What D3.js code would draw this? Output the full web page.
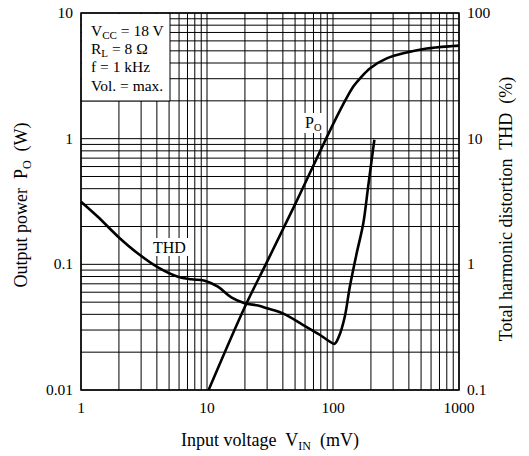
<!DOCTYPE html>
<html><head><meta charset="utf-8">
<script src="https://cdn.jsdelivr.net/npm/d3@7"></script>
<style>body{margin:0;background:#fff}text{font-family:"Liberation Serif","Times New Roman",serif;fill:#000;white-space:pre}</style>
</head><body>
<svg id="c" width="529" height="456"></svg>
<script>
// Data
const poV   = [10.3, 20, 30, 50, 100, 128, 145, 164, 196, 267, 384, 554, 900, 1000];
const poW   = [0.01, 0.046, 0.105, 0.3, 1.3, 2.1, 2.6, 3.02, 3.62, 4.35, 4.85, 5.22, 5.46, 5.5];
const thdV  = [1, 1.36, 1.97, 2.83, 4.08, 5.89, 7.5, 9.6, 12.2, 15.6, 19.9, 25.4, 30, 40, 58, 79, 95, 103, 112, 124, 136, 154, 174, 190, 206, 213];
const thdP  = [3.15, 2.39, 1.66, 1.22, 0.946, 0.797, 0.76, 0.741, 0.664, 0.545, 0.49, 0.47, 0.447, 0.407, 0.329, 0.274, 0.242, 0.233, 0.27, 0.383, 0.664, 1.22, 2.12, 4.14, 7.64, 9.8];
const xTicks = [1, 10, 100, 1000];
const yLeftTicks = [0.01, 0.1, 1, 10];
const yRightTicks = [0.1, 1, 10, 100];
const condLines = [["V","CC"," = 18 V"],["R","L"," = 8 Ω"],["f","",  " = 1 kHz"],["Vol.",""," = max."]];

const svg = d3.select("#c");
const L=81, R=459, T=13, B=390;
const x = d3.scaleLog().domain([1,1000]).range([L,R]);
const yL = d3.scaleLog().domain([0.01,10]).range([B,T]);
const yR = d3.scaleLog().domain([0.1,100]).range([B,T]);

// grid
const g = svg.append("g");
const minor = [];
for (let d=1; d<1000; d*=10) for (let k=1;k<10;k++) minor.push(d*k);
minor.push(1000);
g.selectAll(".vx").data(minor).enter().append("line")
  .attr("x1",d=>x(d)).attr("x2",d=>x(d)).attr("y1",T).attr("y2",B)
  .attr("stroke","#000").attr("stroke-width",1);
const minorY = [];
for (let d=0.01; d<9; d*=10) for (let k=1;k<10;k++) minorY.push(d*k);
minorY.push(10);
g.selectAll(".hy").data(minorY).enter().append("line")
  .attr("y1",d=>yL(d)).attr("y2",d=>yL(d)).attr("x1",L).attr("x2",R)
  .attr("stroke","#000").attr("stroke-width",1);
svg.append("rect").attr("x",L).attr("y",T).attr("width",R-L).attr("height",B-T)
  .attr("fill","none").attr("stroke","#000").attr("stroke-width",1.5);

// condition box
svg.append("rect").attr("x",L+1).attr("y",T+1).attr("width",88).attr("height",87).attr("fill","#fff");
svg.append("line").attr("x1",L).attr("x2",L+89).attr("y1",T+88).attr("y2",T+88).attr("stroke","#000");
svg.append("line").attr("x1",L+89).attr("x2",L+89).attr("y1",T).attr("y2",T+88).attr("stroke","#000");
condLines.forEach((c,i)=>{
  const t = svg.append("text").attr("x",L+10).attr("y",T+23+i*18.2).attr("font-size",15.5);
  t.append("tspan").text(c[0]);
  if (c[1]) t.append("tspan").attr("font-size",11).attr("dy",3).text(c[1]);
  t.append("tspan").attr("dy",c[1]?-3:0).text(c[2]);
});

// curves
const line = d3.line().curve(d3.curveCatmullRom.alpha(0.5));
svg.append("path").attr("d", line(poV.map((v,i)=>[x(v), yL(poW[i])])))
  .attr("fill","none").attr("stroke","#000").attr("stroke-width",2.6);
svg.append("path").attr("d", line(thdV.map((v,i)=>[x(v), yR(thdP[i])])))
  .attr("fill","none").attr("stroke","#000").attr("stroke-width",2.6);

// curve labels
svg.append("rect").attr("x",304).attr("y",113).attr("width",20).attr("height",20).attr("fill","#fff");
const pl = svg.append("text").attr("x",305).attr("y",128).attr("font-size",16);
pl.append("tspan").text("P"); pl.append("tspan").attr("font-size",10.5).attr("dy",3).text("O");
svg.append("rect").attr("x",151).attr("y",238).attr("width",37).attr("height",18).attr("fill","#fff");
svg.append("text").attr("x",153).attr("y",253).attr("font-size",16).text("THD");

// tick labels
svg.selectAll(".xt").data(xTicks).enter().append("text")
  .attr("x",d=>x(d)).attr("y",413).attr("text-anchor","middle").attr("font-size",15.5).text(d=>d);
svg.selectAll(".yl").data(yLeftTicks).enter().append("text")
  .attr("x",73).attr("y",d=>yL(d)+5).attr("text-anchor","end").attr("font-size",15.5).text(d=>d);
svg.selectAll(".yr").data(yRightTicks).enter().append("text")
  .attr("x",467).attr("y",d=>yR(d)+5).attr("text-anchor","start").attr("font-size",15.5).text(d=>d);

// axis titles
const xt = svg.append("text").attr("x",270).attr("y",446).attr("text-anchor","middle").attr("font-size",18);
xt.append("tspan").text("Input voltage  V");
xt.append("tspan").attr("font-size",12).attr("dy",4).text("IN");
xt.append("tspan").attr("dy",-4).text("  (mV)");

const ylt = svg.append("text").attr("transform","translate(27,205) rotate(-90)").attr("text-anchor","middle").attr("font-size",18);
ylt.append("tspan").text("Output power  P");
ylt.append("tspan").attr("font-size",12).attr("dy",4).text("O");
ylt.append("tspan").attr("dy",-4).text("  (W)");

svg.append("text").attr("transform","translate(512,209) rotate(-90)").attr("text-anchor","middle")
  .attr("font-size",18).text("Total harmonic distortion  THD  (%)");
</script>
</body></html>
